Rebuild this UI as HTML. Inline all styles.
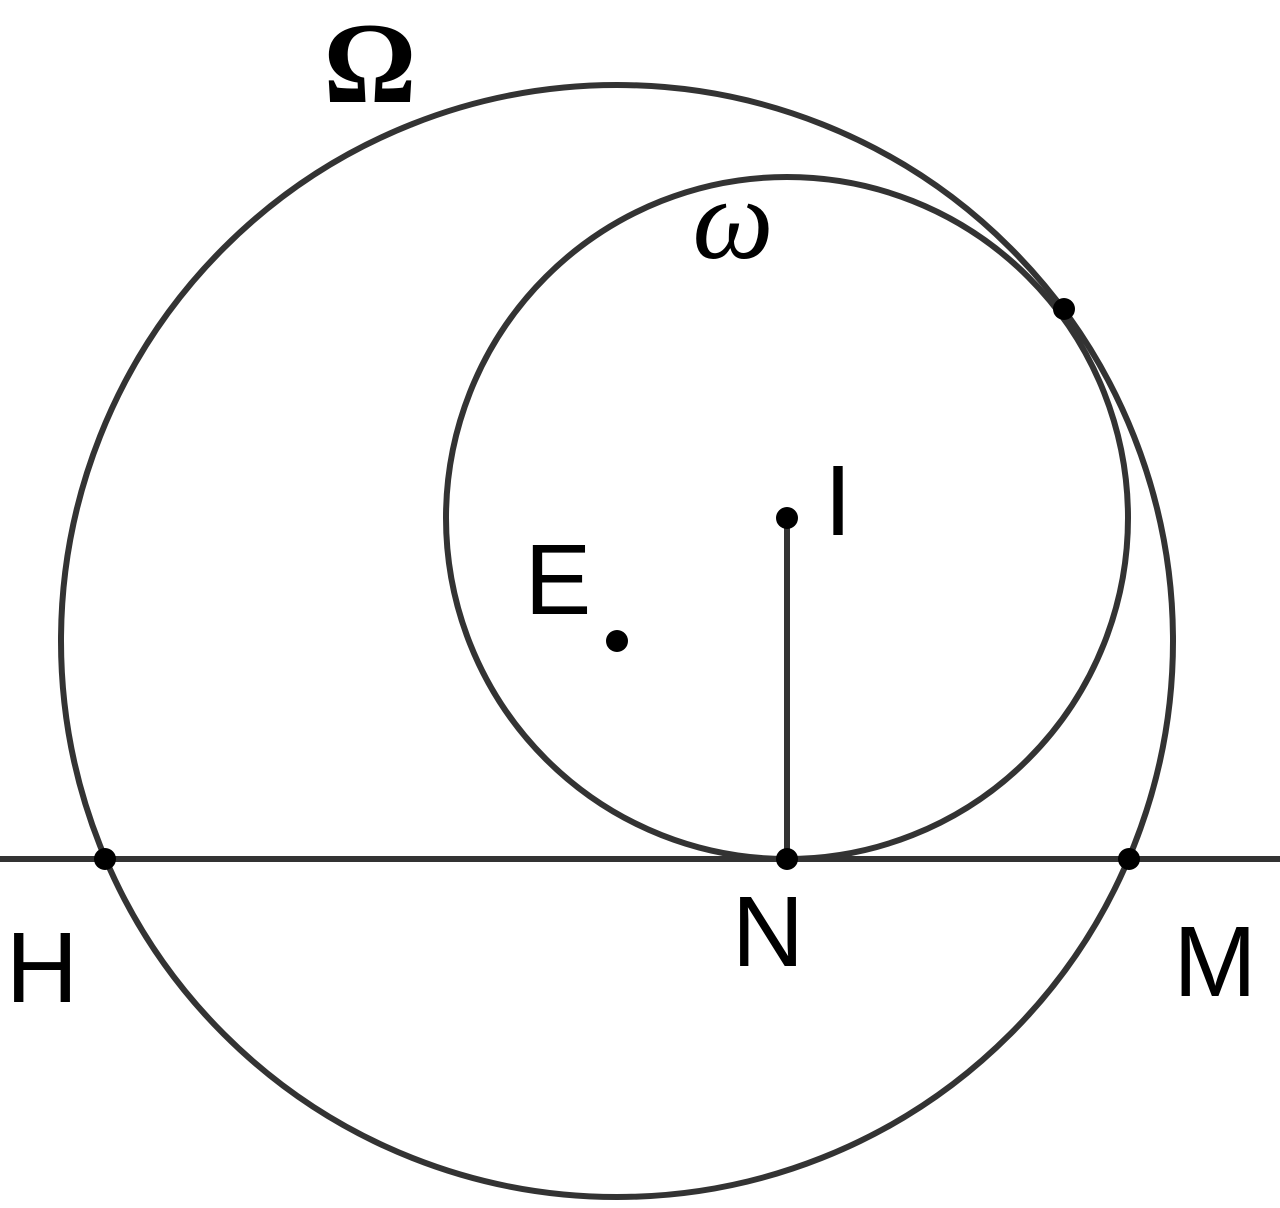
<!DOCTYPE html>
<html><head><meta charset="utf-8"><style>html,body{margin:0;padding:0;background:#fff}</style></head>
<body>
<svg width="1280" height="1203" viewBox="0 0 1280 1203" xmlns="http://www.w3.org/2000/svg">
<g fill="none" stroke="#333" stroke-width="6">
<circle cx="617" cy="641" r="556"/>
<circle cx="787" cy="518" r="341"/>
<line x1="0" y1="859" x2="1280" y2="859"/>
<line x1="787" y1="518" x2="787" y2="859"/>
</g>
<g fill="#000">
<circle cx="105" cy="859" r="11"/>
<circle cx="787" cy="859" r="11"/>
<circle cx="1129" cy="859" r="11"/>
<circle cx="1064" cy="309" r="11"/>
<circle cx="617" cy="641" r="11"/>
<circle cx="787" cy="518" r="11"/>
</g>
<g fill="#000" font-family="Liberation Sans, sans-serif" font-size="100">
<text x="370" y="102" text-anchor="middle" font-family="Liberation Serif, serif" font-weight="bold" font-size="116">Ω</text>
<text x="733" y="258" text-anchor="middle" font-family="Liberation Serif, serif" font-style="italic" font-size="115">ω</text>
<text x="838" y="535" text-anchor="middle">I</text>
<text x="558" y="614" text-anchor="middle">E</text>
<text x="768" y="966" text-anchor="middle">N</text>
<text x="42" y="1002" text-anchor="middle">H</text>
<text x="1215" y="996" text-anchor="middle">M</text>
</g>
</svg>
</body></html>
